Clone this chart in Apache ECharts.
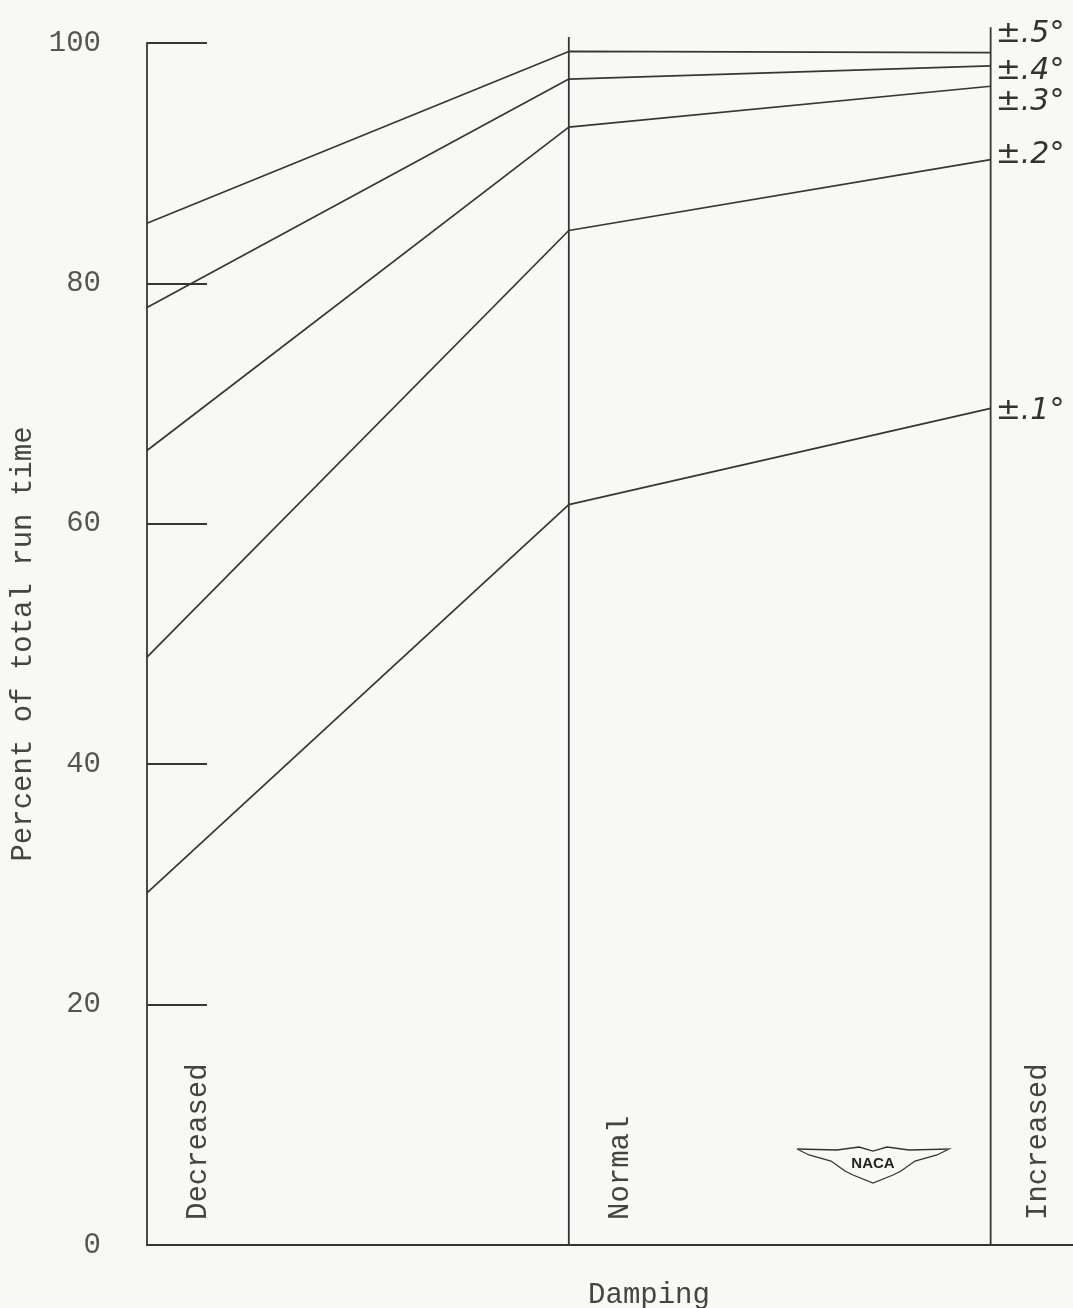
<!DOCTYPE html>
<html><head><meta charset="utf-8">
<script src="https://cdn.jsdelivr.net/npm/echarts@6/dist/echarts.min.js"></script>
<style>html,body{margin:0;padding:0;background:#f8f8f6;}#c{width:1073px;height:1308px;}</style>
</head><body><div id="c"></div>
<script>
const categories = ['Decreased', 'Normal', 'Increased'];
const seriesNames = ['±.5°', '±.4°', '±.3°', '±.2°', '±.1°'];
const amp05 = [85.0, 99.3, 99.2];
const amp04 = [78.0, 97.0, 98.1];
const amp03 = [66.1, 93.0, 96.4];
const amp02 = [48.9, 84.4, 90.3];
const amp01 = [29.3, 61.6, 69.6];
const yTicks = [0, 20, 40, 60, 80, 100];
const dividerTops = [100, 100.5, 101.3];

const seriesValues = [amp05, amp04, amp03, amp02, amp01];
const labelOffsets = [[0, -18], [0, 5], [0, 16], [0, -4], [0, 3]];
const ink = '#363636';
const mono = '"Liberation Mono", "DejaVu Sans Mono", monospace';

const chart = echarts.init(document.getElementById('c'));
const series = seriesValues.map((vals, i) => ({
  name: seriesNames[i], type: 'line', symbol: 'none', clip: false,
  data: vals.map((v, k) => [k, v]),
  lineStyle: { color: ink, width: 1.7 },
  endLabel: {
    show: true, formatter: seriesNames[i], offset: labelOffsets[i],
    fontFamily: '"DejaVu Sans", sans-serif', fontStyle: 'italic',
    fontSize: 30, color: '#333', distance: 5
  },
  z: 3
}));
categories.forEach((c, k) => {
  if (k === 0) return;
  series.push({
    name: c, type: 'line', symbol: 'none', clip: false, silent: true,
    data: [[k, 0], [k, dividerTops[k]]],
    lineStyle: { color: ink, width: 1.8 }, z: 2
  });
});

chart.setOption({
  backgroundColor: '#f8f8f6',
  animation: false,
  grid: { left: 147, right: -2, top: 43, bottom: 63, outerBoundsMode: 'none', containLabel: false },
  xAxis: {
    type: 'value', min: 0, max: 2.2, interval: 1,
    axisLine: { show: true, lineStyle: { color: ink, width: 1.8 } },
    axisTick: { show: false }, axisLabel: { show: false }, splitLine: { show: false },
    name: 'Damping', nameLocation: 'middle', nameGap: 36,
    nameTextStyle: { fontFamily: mono, fontSize: 29, color: '#444', padding: [0, 0, 0, 76] }
  },
  yAxis: {
    type: 'value', min: 0, max: 100, interval: 20,
    axisLine: { show: true, lineStyle: { color: ink, width: 1.8 } },
    axisTick: { show: true, inside: true, length: 60, lineStyle: { color: ink, width: 2.2 } },
    axisLabel: {
      fontFamily: mono, fontSize: 29, color: '#555', margin: 46,
      padding: [14, 0, 0, 0],
      formatter: v => yTicks.includes(v) ? String(v) : ''
    },
    splitLine: { show: false },
    name: 'Percent of total run time', nameLocation: 'middle', nameGap: 100, nameRotate: 90,
    nameTextStyle: { fontFamily: mono, fontSize: 29, color: '#444' }
  },
  series: series
});

// category labels (rotated, inside near the baseline)
const labelDx = [51, 52, 48];
const graphics = categories.map((c, k) => {
  const p = chart.convertToPixel({ gridIndex: 0 }, [k, 0]);
  return {
    type: 'text', x: p[0] + labelDx[k], y: p[1] - 25, rotation: Math.PI / 2,
    style: { text: c, font: '29px ' + mono, fill: '#444', textAlign: 'left', textVerticalAlign: 'middle' }
  };
});
// NACA wing emblem
graphics.push({
  type: 'group', x: 797, y: 1147,
  children: [
    { type: 'polyline', shape: { points: [[0, 2], [40, 3], [62, 0], [76, 4], [90, 0], [112, 3], [152, 2],
      [140, 8], [118, 14], [104, 24], [96, 28], [76, 36], [56, 28], [48, 24], [34, 14], [12, 8], [0, 2]] },
      style: { stroke: '#333', fill: '#f8f8f6', lineWidth: 1.3 } },
    { type: 'text', x: 76, y: 17, style: { text: 'NACA', font: 'bold 15px "Liberation Sans", sans-serif',
      fill: '#222', textAlign: 'center', textVerticalAlign: 'middle' } }
  ]
});
chart.setOption({ graphic: graphics });
</script></body></html>
